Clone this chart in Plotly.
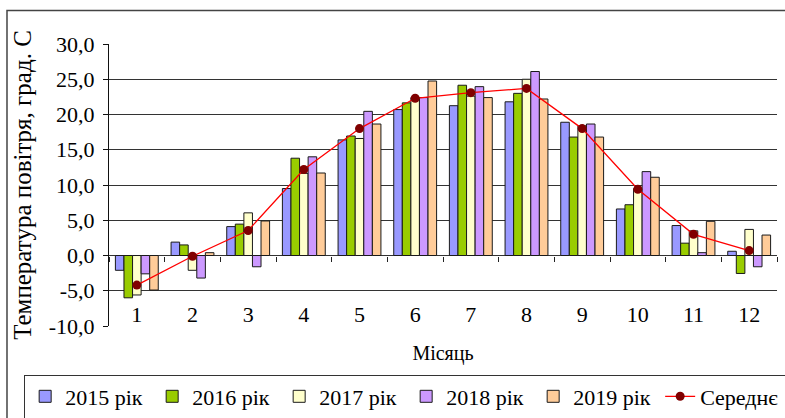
import plotly.graph_objects as go

months = [1, 2, 3, 4, 5, 6, 7, 8, 9, 10, 11, 12]
month_labels = ["1", "2", "3", "4", "5", "6", "7", "8", "9", "10", "11", "12"]

t2015 = [-2.1, 1.9, 4.1, 9.5, 16.4, 20.7, 21.25, 21.8, 18.9, 6.6, 4.25, 0.6]
t2016 = [-6.0, 1.5, 4.45, 13.8, 16.95, 21.65, 24.15, 23.0, 16.8, 7.2, 1.75, -2.55]
t2017 = [-5.6, -2.1, 6.05, 11.65, 16.6, 22.4, 22.6, 25.0, 18.4, 9.5, 3.5, 3.7]
t2018 = [-2.6, -3.2, -1.6, 14.0, 20.45, 22.4, 23.95, 26.1, 18.65, 11.9, 0.4, -1.6]
t2019 = [-4.9, 0.4, 4.9, 11.7, 18.65, 24.75, 22.4, 22.2, 16.8, 11.1, 4.85, 2.9]
mean = [-4.2, -0.1, 3.55, 12.2, 18.0, 22.3, 23.1, 23.7, 18.0, 9.4, 3.0, 0.7]

series_names = ["2015 рік", "2016 рік", "2017 рік", "2018 рік", "2019 рік"]
mean_name = "Середнє"

y_ticks = [-10, -5, 0, 5, 10, 15, 20, 25, 30]
y_tick_labels = ["-10,0", "-5,0", "0,0", "5,0", "10,0", "15,0", "20,0", "25,0", "30,0"]
boundaries = [0.5, 1.5, 2.5, 3.5, 4.5, 5.5, 6.5, 7.5, 8.5, 9.5, 10.5, 11.5, 12.5]

colors = ["#9999FF", "#99CC00", "#FFFFCC", "#CC99FF", "#FFCC99"]
FONT = "Liberation Serif"

fig = go.Figure()
for name, vals, col in zip(series_names, [t2015, t2016, t2017, t2018, t2019], colors):
    fig.add_trace(go.Bar(
        x=months, y=vals, name=name,
        marker=dict(color=col, line=dict(color="#1a1a1a", width=1)),
    ))

fig.add_trace(go.Scatter(
    x=months, y=mean, name=mean_name, mode="lines+markers",
    xaxis="x2",
    line=dict(color="#FF0000", width=1.3),
    marker=dict(color="#800000", size=9),
))

fig.update_layout(
    width=785, height=418,
    margin=dict(l=109, r=8, t=44, b=92, autoexpand=False),
    paper_bgcolor="white", plot_bgcolor="white",
    font=dict(family=FONT, size=20, color="black"),
    barmode="group", bargap=0.23, bargroupgap=0,
    xaxis=dict(
        anchor="free", position=0.095,
        range=[0.5, 12.5], tickmode="array", tickvals=months, ticktext=month_labels,
        showgrid=False, zeroline=False, showline=False, ticks="",
        tickfont=dict(family=FONT, size=22),
        title=dict(text="Місяць", font=dict(family=FONT, size=20), standoff=19),
    ),
    xaxis2=dict(
        overlaying="x", anchor="free", position=0.25, side="bottom",
        range=[0.5, 12.5], tickmode="array", tickvals=boundaries,
        showticklabels=False, ticks="outside", ticklen=5, tickcolor="#222",
        showgrid=False, zeroline=False, showline=False,
    ),
    yaxis=dict(
        range=[-10, 30], tickmode="array", tickvals=y_ticks, ticktext=y_tick_labels,
        showgrid=True, gridcolor="#333", gridwidth=1, zeroline=False,
        showline=True, linecolor="#111", linewidth=1,
        ticks="outside", ticklen=5, tickcolor="#111",
        ticklabelstandoff=4,
        tickfont=dict(family=FONT, size=22),
        title=dict(text="Температура повітря, град. С", font=dict(family=FONT, size=25), standoff=10),
    ),
    showlegend=True,
    legend=dict(
        orientation="h", x=-0.127, xanchor="left", y=-0.172, yanchor="top",
        entrywidth=82, entrywidthmode="pixels",
        bordercolor="#333", borderwidth=1, bgcolor="white",
        font=dict(family=FONT, size=22), traceorder="normal",
    ),
    shapes=[dict(
        type="rect", xref="paper", yref="paper",
        x0=-0.1527, x1=1.2, y0=-0.6, y1=1.119,
        line=dict(color="#444", width=1.5), layer="below",
    )],
)

fig.write_html("out.html", config={"displayModeBar": False},
               post_script="document.body.style.margin='0';")
